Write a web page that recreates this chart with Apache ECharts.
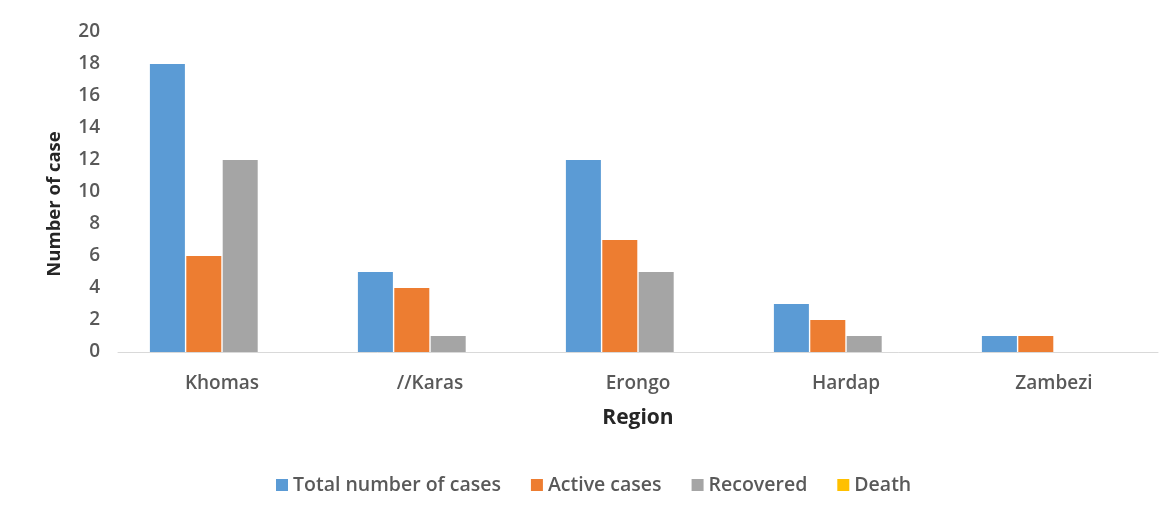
<!DOCTYPE html>
<html>
<head>
<meta charset="utf-8">
<script src="https://cdn.jsdelivr.net/npm/echarts@6/dist/echarts.min.js"></script>
<style>
html,body{margin:0;padding:0;background:#fff;}
#c{width:1160px;height:518px;}
</style>
</head>
<body>
<div id="c"></div>
<script>
const categories = ['Khomas', '//Karas', 'Erongo', 'Hardap', 'Zambezi'];
const totalCases = [18, 5, 12, 3, 1];
const activeCases = [6, 4, 7, 2, 1];
const recovered = [12, 1, 5, 1, 0];
const death = [0, 0, 0, 0, 0];
const yTicks = [0, 20, 2];

const chart = echarts.init(document.getElementById('c'));
const font = '"Open Sans", Lato, sans-serif';
function bar(name, data, color) {
  return { name, type: 'bar', data, barWidth: 35, barGap: '4%', itemStyle: { color } };
}
chart.setOption({
  animation: false,
  textStyle: { fontFamily: font },
  grid: { left: 118, right: 2, top: 32, bottom: 166 },
  legend: {
    bottom: 18, left: 271, itemWidth: 12, itemHeight: 12, itemGap: 30,
    icon: 'rect',
    textStyle: { fontSize: 19.5, fontWeight: 600, color: '#595959', fontFamily: font }
  },
  xAxis: {
    type: 'category', data: categories,
    name: 'Region', nameLocation: 'middle', nameGap: 56,
    nameTextStyle: { fontSize: 21, fontWeight: 'bold', color: '#262626', fontFamily: font },
    axisLine: { lineStyle: { color: '#d9d9d9' } },
    axisTick: { show: false },
    axisLabel: { fontSize: 19, fontWeight: 600, color: '#595959', margin: 22, fontFamily: font }
  },
  yAxis: {
    type: 'value', min: yTicks[0], max: yTicks[1], interval: yTicks[2],
    name: 'Number of case', nameLocation: 'middle', nameGap: 54,
    nameTextStyle: { fontSize: 18.5, fontWeight: 'bold', color: '#262626', fontFamily: font, padding: [0, 24, 0, 0] },
    splitLine: { show: false },
    axisLine: { show: false },
    axisLabel: { fontSize: 19, fontWeight: 600, color: '#595959', margin: 18, fontFamily: font }
  },
  series: [
    bar('Total number of cases', totalCases, '#5B9BD5'),
    bar('Active cases', activeCases, '#ED7D31'),
    bar('Recovered', recovered, '#A5A5A5'),
    bar('Death', death, '#FFC000')
  ]
});
</script>
</body>
</html>
